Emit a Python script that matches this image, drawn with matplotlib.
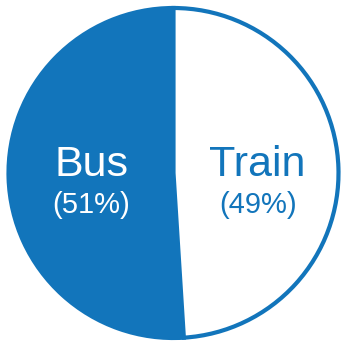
import matplotlib
matplotlib.use("Agg")
import matplotlib.pyplot as plt

# data
categories = ["Bus", "Train"]
shares = [51, 49]

BLUE = "#1275BB"
W, H = 343, 341
R_PX = 165.0          # pie radius in pixels
CX, CY = 173.5, 168.0  # centre in pixels from bottom-left

fig = plt.figure(figsize=(W / 100, H / 100), dpi=100)
ax = fig.add_axes([0, 0, 1, 1])

wedges, _ = ax.pie(
    shares,
    startangle=90.0,
    counterclock=True,
    colors=[BLUE, "white"],
    wedgeprops=dict(edgecolor=BLUE, linewidth=3.0),
)

ax.set_xlim(-CX / R_PX, (W - CX) / R_PX)
ax.set_ylim(-CY / R_PX, (H - CY) / R_PX)
ax.set_aspect("equal")
ax.axis("off")

# label positions (x, baseline y) in data units
label_pos = {"Bus": (-0.495, -0.02), "Train": (0.51, -0.02)}
pct_pos = {"Bus": (-0.497, -0.245), "Train": (0.51, -0.245)}
text_colors = {"Bus": "white", "Train": BLUE}

for name, val in zip(categories, shares):
    x, y = label_pos[name]
    ax.text(x, y, name, ha="center", va="baseline", fontsize=31,
            family="Liberation Sans", color=text_colors[name])
    x, y = pct_pos[name]
    ax.text(x, y, f"({val}%)", ha="center", va="baseline", fontsize=21,
            family="Liberation Sans", color=text_colors[name])

fig.savefig("out.png", dpi=100)
